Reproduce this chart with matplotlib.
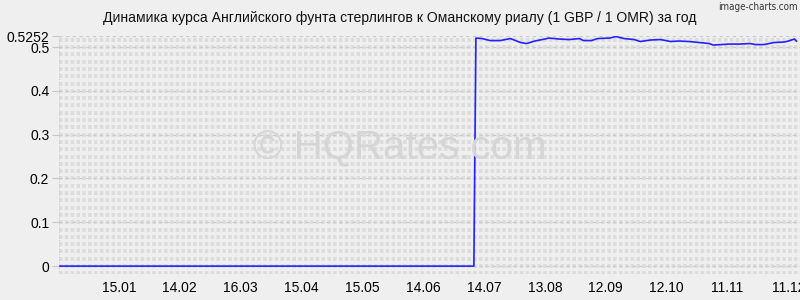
import matplotlib
matplotlib.use("Agg")
import matplotlib.pyplot as plt
import pandas as pd
import numpy as np

plt.rcParams['font.family'] = ['Liberation Sans', 'DejaVu Sans']

title = "Динамика курса Английского фунта стерлингов к Оманскому риалу (1 GBP / 1 OMR) за год"

dates = ["2024-12-17", "2025-07-09", "2025-07-10", "2025-07-13", "2025-07-17", "2025-07-22",
         "2025-07-27", "2025-08-01", "2025-08-04", "2025-08-08", "2025-08-13", "2025-08-15",
         "2025-08-20", "2025-08-25", "2025-08-30", "2025-09-01", "2025-09-05", "2025-09-08",
         "2025-09-14", "2025-09-17", "2025-09-21", "2025-09-26", "2025-09-29", "2025-10-04",
         "2025-10-09", "2025-10-14", "2025-10-18", "2025-10-23", "2025-10-28", "2025-11-02",
         "2025-11-04", "2025-11-12", "2025-11-17", "2025-11-22", "2025-11-25", "2025-11-29",
         "2025-12-04", "2025-12-09", "2025-12-11", "2025-12-14", "2025-12-15"]
values = [0.0, 0.0, 0.5205, 0.5194, 0.5148, 0.5148,
          0.5194, 0.5103, 0.5080, 0.5137, 0.5183, 0.5205,
          0.5183, 0.5171, 0.5194, 0.5148, 0.5148, 0.5194,
          0.5205, 0.5240, 0.5194, 0.5171, 0.5126, 0.5160,
          0.5171, 0.5126, 0.5137, 0.5126, 0.5103, 0.5080,
          0.5046, 0.5068, 0.5068, 0.5080, 0.5057, 0.5057,
          0.5103, 0.5114, 0.5137, 0.5183, 0.5137]

tick_dates = ["2025-01-15", "2025-02-14", "2025-03-16", "2025-04-15", "2025-05-15", "2025-06-14",
              "2025-07-14", "2025-08-13", "2025-09-12", "2025-10-12", "2025-11-11", "2025-12-11"]
tick_labels = ["15.01", "14.02", "16.03", "15.04", "15.05", "14.06",
               "14.07", "13.08", "12.09", "12.10", "11.11", "11.12"]
ytick_vals = [0, 0.1, 0.2, 0.3, 0.4, 0.5, 0.5252]
ytick_labels = ["0", "0.1", "0.2", "0.3", "0.4", "0.5", "0.5252"]

bg = "#efefef"
fig = plt.figure(figsize=(8, 3), dpi=100, facecolor=bg)
ax = fig.add_axes([0.07375, 0.0867, 0.92625, 0.7933])
ax.set_facecolor(bg)

x = pd.to_datetime(dates)
xmin = pd.Timestamp("2024-12-16 12:00")
xmax = pd.Timestamp("2025-12-16 18:00")
ax.set_xlim(xmin, xmax)
ax.set_ylim(-0.018, 0.5252)

# minor comb-like grid bands
for yv in np.arange(-1, 32) * (0.1 / 6):
    if yv < -0.018 or yv > 0.526:
        continue
    ax.axhline(yv, color="#dcdcdc", lw=2.8, dashes=(0.9, 0.6), zorder=0)
for yv in [0, 0.1, 0.2, 0.3, 0.4, 0.5, 0.5252]:
    ax.axhline(yv, color="#cacaca", lw=0.8, dashes=(3, 3), zorder=0.5)
ax.axhline(-0.018, color="#cccccc", lw=0.8, dashes=(1, 1.5), zorder=0.5)
ax.axvline(xmin, color="#cccccc", lw=0.8, dashes=(1, 1.5), zorder=0.5)

ax.plot(x, values, color="#2222ff", lw=1.2, zorder=3)

for s in ax.spines.values():
    s.set_visible(False)

ax.set_xticks(pd.to_datetime(tick_dates))
ax.set_xticklabels(tick_labels)
ax.set_yticks(ytick_vals)
ax.set_yticklabels(ytick_labels)
ax.tick_params(axis="x", length=0, pad=5, labelsize=10, colors="#000000")
ax.tick_params(axis="y", length=5, pad=2, labelsize=10, colors="#000000", color="#c8c8c8")
for lbl in ax.get_yticklabels():
    lbl.set_color("black")

fig.text(0.5, 0.94, title, ha="center", va="center", fontsize=10.05, color="#111111")
fig.text(0.997, 0.975, "image-charts.com", ha="right", va="center", fontsize=7,
         color="#333333", family=["DejaVu Sans"], stretch="condensed")
fig.text(0.5, 0.505, "© HQRates.com", ha="center", va="center", fontsize=29,
         color="#d5d5d5", zorder=1)

fig.savefig("out.png", dpi=100, facecolor=bg)
